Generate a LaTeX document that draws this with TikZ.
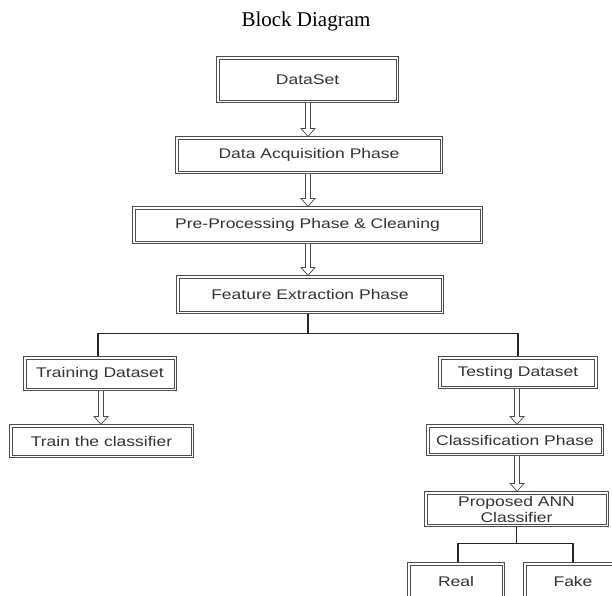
\documentclass[tikz,border=0pt]{standalone}
\usepackage{fontspec}
\setmainfont{Liberation Sans}[FakeStretch=1.25]
\newfontfamily\titlefont{Liberation Serif}
\usetikzlibrary{calc}
\tikzset{
  blk/.style={draw=gray!60!black, line width=0.8pt,
    fill=white, inner sep=0pt, align=center,
    font=\fontsize{14}{16}\selectfont, text=black!80},
  frame/.style={draw=gray!60!black, line width=1pt},
  hollowarrow/.style={draw=gray!55!black, line width=0.7pt, fill=white,
    to path={let \p1=(\tikztostart), \p2=(\tikztotarget) in
      (\x1-2.5pt,\y1) -- (\x1-2.5pt,\y2+8pt) -- (\x1-7pt,\y2+8pt) -- (\x1,\y2)
      -- (\x1+7pt,\y2+8pt) -- (\x1+2.5pt,\y2+8pt) -- (\x1+2.5pt,\y1) -- cycle}},
  conn/.style={draw=black!85, line width=1.4pt}
}
\begin{document}
\begin{tikzpicture}[x=1pt,y=-1pt]
\clip (0,0) rectangle (612,595);
\fill[white] (0,0) rectangle (612,595);
\node[font=\titlefont\fontsize{21}{23}\selectfont] (title) at (306,21) {Block Diagram};
\node[blk, minimum width=177pt, minimum height=41pt] (ds) at (307.5,79.5) {DataSet};
\node[blk, minimum width=262pt, minimum height=32pt] (acq) at (309,155) {Data Acquisition Phase};
\node[blk, minimum width=345pt, minimum height=32pt] (pre) at (307.5,225) {Pre-Processing Phase \& Cleaning};
\node[blk, minimum width=262pt, minimum height=33pt] (feat) at (310,294.5) {Feature Extraction Phase};
\node[blk, minimum width=148pt, minimum height=29pt] (trn) at (100,373.5) {Training Dataset};
\node[blk, minimum width=179pt, minimum height=28pt] (clf) at (101.5,441) {Train the classifier};
\node[blk, minimum width=153pt, minimum height=27pt] (tst) at (518,372.5) {Testing Dataset};
\node[blk, minimum width=172pt, minimum height=26pt] (cls) at (515,440) {Classification Phase};
\node[blk, minimum width=179pt, minimum height=30pt] (ann) at (516.5,509) {Proposed ANN\\Classifier};
\node[blk, minimum width=92pt, minimum height=32pt] (real) at (456,581) {Real};
\node[blk, minimum width=94pt, minimum height=32pt] (fake) at (573,581) {Fake};
\foreach \n in {ds,acq,pre,feat,trn,clf,tst,cls,ann,real,fake}
  \draw[frame] ($(\n.north west)+(-2.2pt,2.2pt)$) rectangle ($(\n.south east)+(2.2pt,-2.2pt)$);
% hollow arrows
\path[hollowarrow] ($(ds.south)+(0.5,2.2)$) to ($(acq.north)+(0,-2.2)$);
\path[hollowarrow] ($(acq.south)+(-1,2.2)$) to ($(pre.north)+(0,-2.2)$);
\path[hollowarrow] ($(pre.south)+(0.5,2.2)$) to ($(feat.north)+(0,-2.2)$);
\path[hollowarrow] ($(trn.south)+(1,2.2)$) to ($(clf.north)+(0,-2.2)$);
\path[hollowarrow] ($(tst.south)+(-1,2.2)$) to ($(cls.north)+(0,-2.2)$);
\path[hollowarrow] ($(cls.south)+(2,2.2)$) to ($(ann.north)+(0,-2.2)$);
% connectors
\draw[conn] ($(feat.south)+(-2,2.2)$) -- ++(0,20) coordinate (j1);
\draw[conn] (j1) -| ($(trn.north)+(-2,-2.2)$);
\draw[conn] (j1) -| ($(tst.north)+(0,-2.2)$);
\draw[conn] ($(ann.south)+(0,2.2)$) -- ++(0,17) coordinate (j2);
\draw[conn] (j2) -| ($(real.north)+(2,-2.2)$);
\draw[conn] (j2) -| ($(fake.north)+(0,-2.2)$);
\end{tikzpicture}
\end{document}
